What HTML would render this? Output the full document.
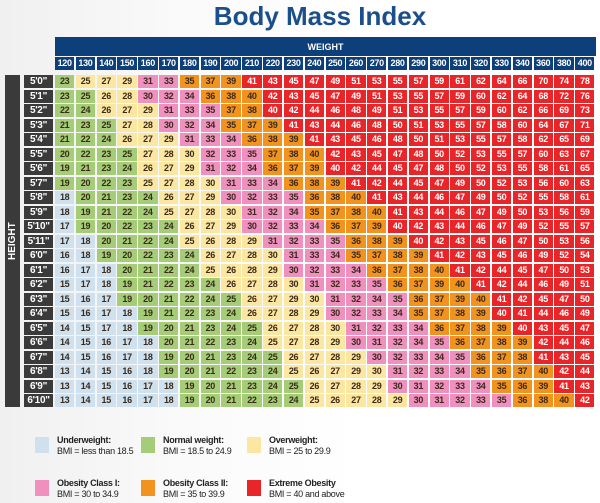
<!DOCTYPE html>
<html><head><meta charset="utf-8"><style>
body{margin:0;width:600px;height:503px;overflow:hidden;background:linear-gradient(90deg,#f0f0f0 0,#fafafa 30%,#fff 60%);font-family:"Liberation Sans",sans-serif;position:relative}
.a{position:absolute;box-sizing:border-box;text-align:center;font-weight:bold}
.c{font-size:9px;line-height:13px;height:13px;color:#3a2a1a;letter-spacing:-0.3px}
.lg{position:absolute;font-size:9px;color:#222;line-height:11px;letter-spacing:-0.3px}
.lg b{display:block}
.sw{position:absolute;width:14px;height:16px}
</style></head><body>
<div class="a" style="left:150px;top:0;width:340px;font-size:26px;line-height:32px;color:#1a4f8b">Body Mass Index</div>
<div class="a" style="left:55px;top:37px;width:541px;height:19px;background:#0d3f7a;color:#fff;font-size:9px;line-height:20px;padding-top:0">WEIGHT</div>
<div class="a" style="left:5px;top:75px;width:15px;height:332px;background:#3a3a3a"></div>
<div class="a" style="left:5px;top:75px;width:15px;height:332px;color:#fff;font-size:10px;writing-mode:vertical-rl;transform:rotate(180deg);line-height:15px">HEIGHT</div>
<div id="g"></div>
<div class="sw" style="left:35px;top:437px;background:#cfe0ee"></div>
<div class="lg" style="left:57px;top:435px"><b>Underweight:</b>BMI = less than 18.5</div>
<div class="sw" style="left:141px;top:437px;background:#a5cd78"></div>
<div class="lg" style="left:163px;top:435px"><b>Normal weight:</b>BMI = 18.5 to 24.9</div>
<div class="sw" style="left:247px;top:437px;background:#fbe6a2"></div>
<div class="lg" style="left:269px;top:435px"><b>Overweight:</b>BMI = 25 to 29.9</div>
<div class="sw" style="left:35px;top:480px;background:#ef90bf"></div>
<div class="lg" style="left:57px;top:478px"><b>Obesity Class I:</b>BMI = 30 to 34.9</div>
<div class="sw" style="left:141px;top:480px;background:#f2931f"></div>
<div class="lg" style="left:163px;top:478px"><b>Obesity Class II:</b>BMI = 35 to 39.9</div>
<div class="sw" style="left:247px;top:480px;background:#e8262a"></div>
<div class="lg" style="left:269px;top:478px"><b>Extreme Obesity</b>BMI = 40 and above</div>
<script>
var W=[];for(var w=120;w<=340;w+=10)W.push(w);W.push(360,380,400);
var g='',pw=541/26,x0=55;
W.forEach(function(w,i){g+='<div class="a c" style="left:'+(x0+i*pw)+'px;top:57px;width:'+(pw-1.5)+'px;background:#0d3f7a;color:#fff">'+w+'</div>';});
for(var r=0;r<23;r++){var h=60+r,y=75+r*14.5;var ft=Math.floor(h/12),inch=h%12;
g+='<div class="a c" style="left:24px;top:'+y+'px;width:29px;background:#3a3a3a;color:#fff;font-size:10px">'+ft+'\''+inch+'"</div>';
W.forEach(function(w,i){var b=703*w/(h*h),v=Math.round(b),col,tc='#3a2a1a';
if(b<18.5)col='#cfe0ee';else if(b<25)col='#a5cd78';else if(b<30)col='#fbe6a2';else if(b<35)col='#ef90bf';else if(b<40)col='#f2931f';else{col='#e8262a';tc='#fff';}
g+='<div class="a c" style="left:'+(x0+i*pw)+'px;top:'+y+'px;width:'+(pw-1.5)+'px;background:'+col+';color:'+tc+'">'+v+'</div>';});}
document.getElementById('g').innerHTML=g;
</script>
</body></html>
